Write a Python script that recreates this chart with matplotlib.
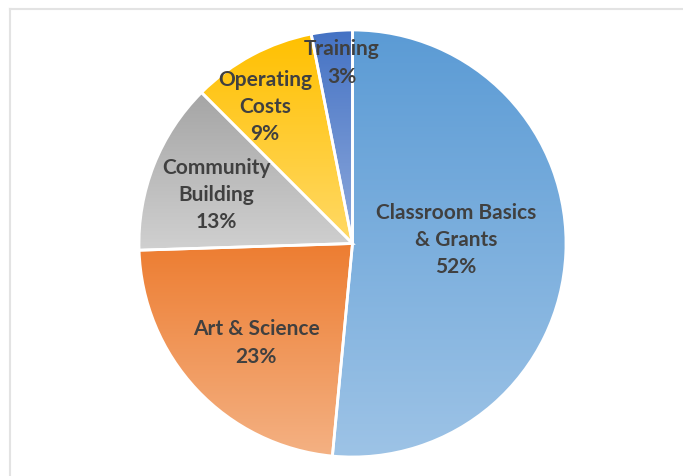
import matplotlib.pyplot as plt
import numpy as np
from matplotlib.colors import to_rgb

# slice data: shares as measured from the wedge angles, labels as printed
labels = ['Classroom Basics\n& Grants', 'Art & Science', 'Community\nBuilding', 'Operating\nCosts', 'Training']
shares = [51.5, 23.0, 13.0, 9.4, 3.1]
pct_labels = ['52%', '23%', '13%', '9%', '3%']
top_colors = ['#5B9BD5', '#ED7D31', '#A5A5A5', '#FFC000', '#4472C4']
bottom_colors = ['#9DC3E6', '#F4B183', '#D0D0D0', '#FFD966', '#8FAADC']
# label centers (pixels from top-left)
label_pos = [(456, 240), (256, 343), (216, 195), (265, 107), (342, 63)]

fig = plt.figure(figsize=(6.83, 4.76), dpi=100)
ax = fig.add_axes([0, 0, 1, 1])

wedges, _ = ax.pie(shares, startangle=90, counterclock=False,
                   center=(352.5, 232.5), radius=213.5,
                   wedgeprops=dict(edgecolor='white', linewidth=2))

# vertical gradient fill clipped to each wedge
for w, c1, c2 in zip(wedges, top_colors, bottom_colors):
    ext = w.get_path().get_extents()
    a = np.array(to_rgb(c1))
    b = np.array(to_rgb(c2))
    t = np.linspace(0, 1, 256)[:, None]
    grad = (a + (b - a) * t)[:, None, :]
    im = ax.imshow(grad, extent=[ext.x0, ext.x1, ext.y0, ext.y1],
                   origin='upper', aspect='auto', zorder=0.5)
    im.set_clip_path(w)
    w.set_facecolor('none')
    w.set_zorder(1)

for lab, p, (x, y) in zip(labels, pct_labels, label_pos):
    ax.text(x, 476 - y, lab + '\n' + p, ha='center', va='center',
            fontsize=15, fontfamily='Lato', fontweight='bold',
            color='#404040', linespacing=1.45, zorder=3)

# light outer frame
ax.plot([10, 10], [0, 467.5], color='#E3E3E3', lw=1.5)
ax.plot([10, 683], [467.5, 467.5], color='#E3E3E3', lw=1.5)

ax.set_xlim(0, 683)
ax.set_ylim(0, 476)
ax.set_aspect('auto')
ax.axis('off')

plt.savefig('out.png', dpi=100)
